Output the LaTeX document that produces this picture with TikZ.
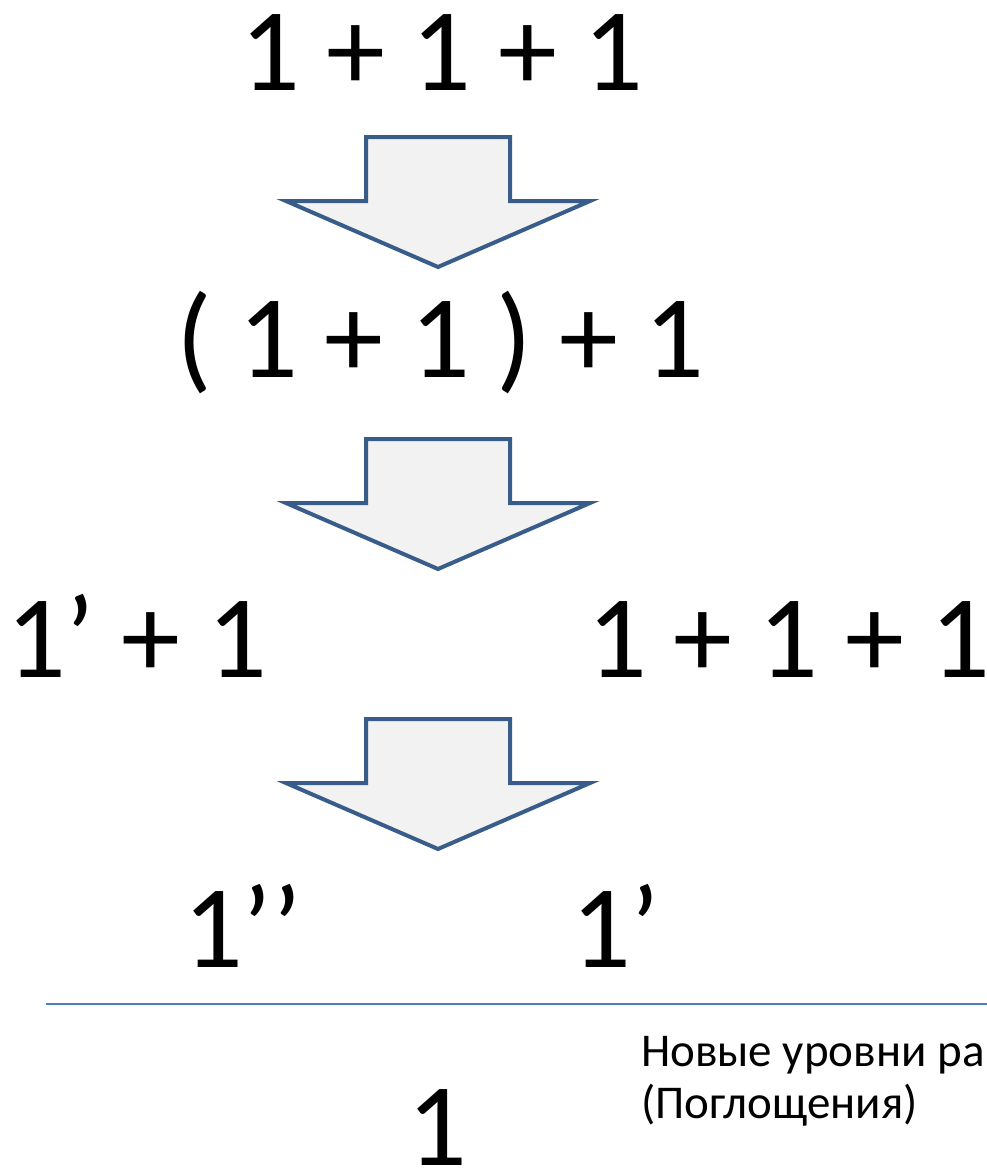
\documentclass[tikz,border=0pt]{standalone}
\usepackage{fontspec}
\setmainfont{Carlito}
\begin{document}
\begin{tikzpicture}[x=1pt,y=-1pt,
  big/.style={inner sep=0pt, outer sep=0pt, font=\fontsize{118}{140}\selectfont},
  small/.style={inner sep=0pt, outer sep=0pt, font=\fontsize{47}{56}\selectfont},
  blockarrow/.style={draw=arrowblue, fill=arrowfill, line width=4pt, line join=miter},
  pics/downarrow/.style={code={
    \path[blockarrow] (-72,0) -- (72,0) -- (72,64) -- (152,64) -- (0,130) -- (-152,64) -- (-72,64) -- cycle;
  }}]
\definecolor{arrowblue}{HTML}{385D8A}
\definecolor{arrowfill}{HTML}{F2F2F2}
\definecolor{rule}{HTML}{4A7EBB}
\useasboundingbox (0,0) rectangle (987,1170);
\clip (0,0) rectangle (987,1170);

\node[big, anchor=base west] (l1) at (240,90) {1 + 1 + 1};
\pic at (438,137) {downarrow};
\node[big, anchor=base west] (l2) at (176,377) {( 1 + 1 ) + 1};
\pic at (438,439) {downarrow};
\node[big, anchor=base west] (l3a) at (6,677) {1’ + 1};
\node[big, anchor=base west] (l3b) at (587,677) {1 + 1 + 1};
\pic at (438,719) {downarrow};
\node[big, anchor=base west] (l4a) at (183,967) {1’’};
\node[big, anchor=base west] (l4b) at (571,967) {1’};
\coordinate (ruleL) at (46,1004);
\coordinate (ruleR) at (987,1004);
\draw[rule, line width=2pt] (ruleL) -- (ruleR);
\node[big, anchor=base west] (l5) at (407,1165) {1};
\node[small, anchor=base west] (lbl1) at (641,1066) {Новые уровни ра};
\node[small, anchor=base west] (lbl2) at (641,1118) {(Поглощения)};
\end{tikzpicture}
\end{document}
